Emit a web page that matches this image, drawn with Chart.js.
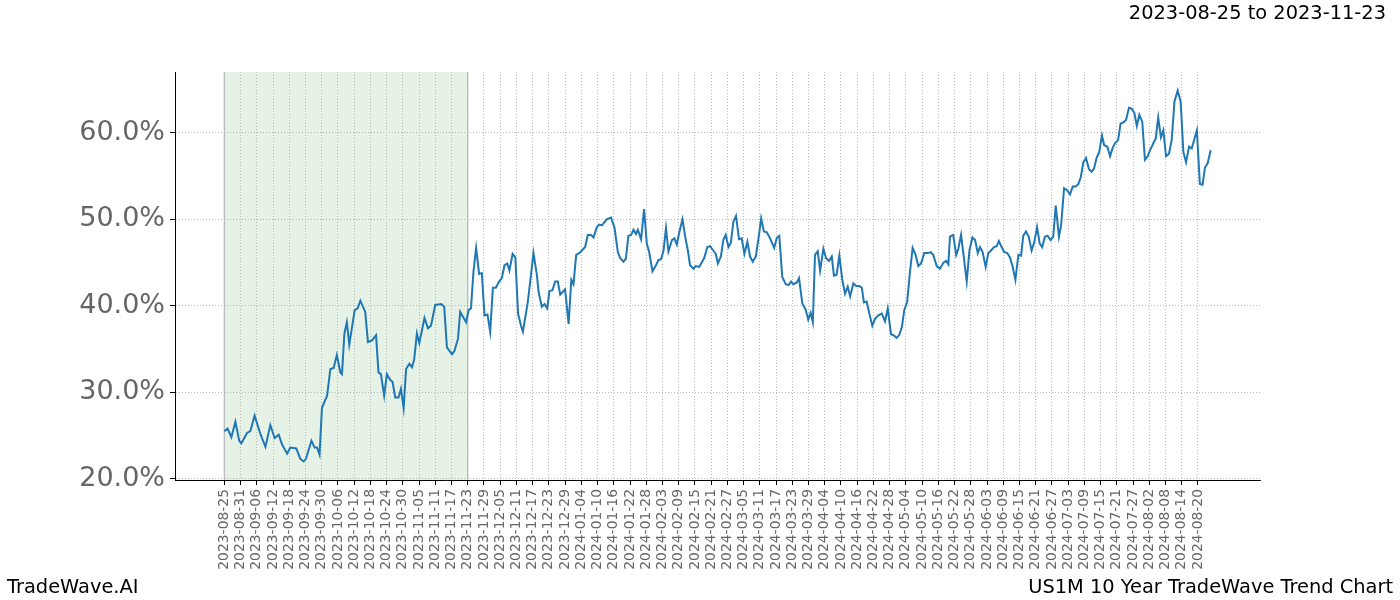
<!DOCTYPE html>
<html>
<head>
<meta charset="utf-8">
<script src="https://cdn.jsdelivr.net/npm/chart.js@4.4.1/dist/chart.umd.min.js"></script>
<style>
  body { margin: 0; background: #fff; }
  #wrap { position: relative; width: 1400px; height: 600px; }
  .txt { position: absolute; font-family: "DejaVu Sans", sans-serif; font-size: 19.4px; line-height: 1; color: #000; white-space: nowrap; }
</style>
</head>
<body>
<div id="wrap">
  <canvas id="chart" width="1400" height="600"></canvas>
  <div class="txt" style="right:14px; top:3px;">2023-08-25 to 2023-11-23</div>
  <div class="txt" style="left:7px; top:577px;">TradeWave.AI</div>
  <div class="txt" style="right:7px; top:577px;">US1M 10 Year TradeWave Trend Chart</div>
</div>
<script>
// x tick labels, one every 6 index steps
const tickLabels = [
  "2023-08-25", "2023-08-31", "2023-09-06", "2023-09-12", "2023-09-18", "2023-09-24",
  "2023-09-30", "2023-10-06", "2023-10-12", "2023-10-18", "2023-10-24", "2023-10-30",
  "2023-11-05", "2023-11-11", "2023-11-17", "2023-11-23", "2023-11-29", "2023-12-05",
  "2023-12-11", "2023-12-17", "2023-12-23", "2023-12-29", "2024-01-04", "2024-01-10",
  "2024-01-16", "2024-01-22", "2024-01-28", "2024-02-03", "2024-02-09", "2024-02-15",
  "2024-02-21", "2024-02-27", "2024-03-05", "2024-03-11", "2024-03-17", "2024-03-23",
  "2024-03-29", "2024-04-04", "2024-04-10", "2024-04-16", "2024-04-22", "2024-04-28",
  "2024-05-04", "2024-05-10", "2024-05-16", "2024-05-22", "2024-05-28", "2024-06-03",
  "2024-06-09", "2024-06-15", "2024-06-21", "2024-06-27", "2024-07-03", "2024-07-09",
  "2024-07-15", "2024-07-21", "2024-07-27", "2024-08-02", "2024-08-08", "2024-08-14",
  "2024-08-20"
];
const yTicks = [20, 30, 40, 50, 60];

// highlighted window (index range), 2023-08-25 .. 2023-11-23
const bandStart = 0;
const bandEnd = 90;

// day index since 2023-08-25 and trend value (%)
const dayIndex = [
  0, 1.2, 2.6, 4.1, 5.5, 6.3, 8.4, 9.6, 11.2, 13.3, 15.2, 17.0, 18.6, 20.1, 21.3, 23.2, 24.4, 26.6, 28.1, 29.3,
  30.2, 32.2, 33.4, 34.3, 35.2, 36.1, 38.0, 39.2, 40.4, 41.6, 42.9, 43.5, 44.4, 45.3, 46.2, 48.2, 49.3, 50.3, 52.1, 53.1,
  54.6, 56.1, 57.0, 57.9, 59.1, 60.1, 61.4, 62.2, 63.2, 64.4, 65.3, 66.3, 67.2, 68.4, 69.4, 70.2, 71.2, 72.1, 73.1, 74.0,
  75.3, 76.4, 78.0, 80.2, 81.3, 82.3, 84.2, 85.1, 86.4, 87.2, 89.4, 90.3, 91.2, 92.1, 93.1, 94.2, 95.2, 96.2, 97.3, 98.3,
  99.3, 100.4, 101.6, 102.6, 103.6, 104.6, 105.4, 106.6, 107.6, 108.6, 109.7, 110.4, 111.5, 112.2, 113.5, 114.3, 115.6, 116.2, 117.4, 118.4,
  119.4, 120.2, 121.3, 122.3, 123.3, 124.2, 126.0, 127.3, 128.3, 129.1, 130.1, 131.6, 132.8, 133.4, 134.4, 135.6, 136.5, 137.7, 138.6, 139.6,
  141.4, 143.0, 144.3, 145.5, 146.4, 147.6, 148.5, 149.4, 150.4, 151.3, 152.2, 152.9, 154.1, 155.2, 156.2, 157.1, 158.3, 159.6, 160.5, 161.5,
  162.4, 163.3, 164.2, 165.5, 166.4, 167.3, 168.3, 169.4, 170.4, 171.4, 172.2, 173.5, 174.3, 175.6, 176.3, 177.4, 178.6, 179.6, 180.8, 181.7,
  182.5, 183.6, 184.5, 185.4, 186.4, 187.3, 188.2, 189.2, 190.3, 191.3, 192.3, 193.4, 194.4, 195.4, 196.5, 197.5, 198.5, 199.5, 200.6, 201.8,
  203.3, 204.3, 205.2, 206.3, 207.6, 208.6, 209.6, 210.4, 211.7, 212.5, 213.7, 215.0, 215.9, 216.8, 217.6, 218.4, 219.4, 220.3, 221.5, 222.5,
  223.6, 224.6, 225.4, 226.4, 227.4, 228.5, 229.5, 230.5, 231.4, 232.6, 233.6, 234.7, 235.7, 236.5, 237.5, 238.5, 239.6, 240.6, 241.8, 243.1,
  244.3, 245.3, 246.5, 247.4, 248.6, 249.5, 250.5, 251.4, 252.5, 253.5, 254.5, 255.6, 256.6, 257.6, 258.8, 260.1, 261.2, 262.1, 263.4, 264.6,
  265.9, 266.9, 267.7, 268.3, 269.5, 270.6, 271.4, 272.4, 273.2, 274.5, 275.5, 276.6, 277.6, 278.6, 279.4, 280.4, 281.5, 282.5, 283.5, 284.6,
  285.6, 286.4, 287.4, 288.4, 289.5, 290.5, 291.5, 292.5, 293.6, 294.6, 295.4, 296.4, 297.4, 298.5, 299.5, 300.5, 301.5, 302.4, 303.4, 304.4,
  305.5, 306.5, 307.4, 308.6, 309.4, 310.5, 311.5, 312.7, 313.7, 314.8, 315.8, 316.7, 317.6, 318.6, 319.7, 320.7, 321.6, 322.5, 323.5, 324.5,
  325.3, 326.5, 327.5, 328.5, 329.3, 330.5, 331.4, 332.4, 333.4, 334.5, 335.5, 336.5, 337.4, 338.3, 339.4, 340.4, 341.4, 342.4, 343.2, 344.4,
  345.3, 346.3, 347.2, 348.2, 349.3, 350.3, 351.3, 352.5, 353.6, 354.6, 355.6, 356.7, 357.7, 358.6, 359.6, 360.7, 361.7, 362.6, 363.6, 364.7
];
const trendPct = [
  25.5, 25.8, 24.8, 26.6, 24.4, 24.1, 25.3, 25.5, 27.3, 25.2, 23.7, 26.2, 24.7, 25.1, 24.0, 22.9, 23.6, 23.5, 22.3, 22.0,
  22.3, 24.4, 23.6, 23.6, 22.8, 28.2, 29.6, 32.7, 32.8, 34.3, 32.3, 32.1, 36.8, 38.1, 35.5, 39.5, 39.7, 40.6, 39.3, 35.8,
  36.0, 36.6, 32.3, 32.1, 29.6, 32.1, 31.4, 31.2, 29.4, 29.4, 30.4, 28.2, 32.7, 33.3, 32.9, 33.8, 36.8, 35.7, 37.2, 38.6,
  37.4, 37.7, 40.1, 40.2, 39.9, 35.2, 34.4, 34.8, 36.2, 39.3, 38.1, 39.5, 39.7, 43.9, 46.7, 43.7, 43.8, 38.9, 39.0, 37.0,
  42.1, 42.1, 42.8, 43.2, 44.7, 44.9, 44.1, 46.0, 45.6, 39.1, 37.7, 37.0, 39.1, 40.4, 43.9, 46.1, 43.5, 41.6, 39.9, 40.2,
  39.7, 41.7, 41.8, 42.8, 42.8, 41.3, 41.9, 37.9, 43.0, 42.5, 45.9, 46.2, 46.6, 46.8, 48.2, 48.2, 47.9, 49.1, 49.4, 49.3,
  50.0, 50.2, 49.0, 46.2, 45.5, 45.1, 45.5, 48.1, 48.2, 48.8, 48.3, 48.8, 47.7, 51.2, 47.2, 46.2, 44.0, 44.7, 45.3, 45.4,
  46.4, 49.0, 46.3, 47.6, 47.8, 47.1, 48.6, 50.0, 48.0, 46.4, 44.7, 44.3, 44.6, 44.5, 44.9, 45.5, 46.8, 46.9, 46.4, 46.0,
  44.9, 45.7, 47.6, 48.2, 46.8, 47.3, 49.7, 50.4, 47.7, 47.8, 46.0, 47.4, 45.7, 45.1, 45.7, 47.8, 50.1, 48.6, 48.5, 47.8,
  46.7, 47.9, 48.1, 43.3, 42.5, 42.4, 42.8, 42.5, 42.7, 43.2, 40.3, 39.5, 38.4, 39.2, 38.1, 45.9, 46.3, 44.1, 46.6, 45.5,
  45.2, 45.7, 43.5, 43.6, 45.8, 43.0, 41.4, 42.2, 41.1, 42.6, 42.3, 42.3, 42.1, 40.4, 40.5, 39.1, 37.7, 38.5, 38.9, 39.1,
  38.2, 39.7, 36.7, 36.6, 36.3, 36.6, 37.5, 39.5, 40.5, 43.9, 46.7, 45.9, 44.6, 44.9, 46.1, 46.1, 46.2, 45.9, 44.6, 44.3,
  45.0, 45.2, 44.8, 48.0, 48.2, 45.9, 46.6, 48.2, 46.2, 42.8, 46.4, 47.9, 47.6, 46.1, 46.8, 46.2, 44.5, 46.1, 46.4, 46.8,
  46.9, 47.5, 46.8, 46.2, 46.1, 45.6, 44.5, 43.0, 45.9, 45.8, 48.1, 48.6, 48.0, 46.4, 47.4, 49.1, 47.2, 46.8, 48.0, 48.1,
  47.6, 48.0, 51.6, 48.0, 49.3, 53.6, 53.4, 52.9, 53.8, 53.8, 54.1, 54.9, 56.6, 57.1, 55.8, 55.5, 55.9, 57.1, 57.8, 59.7,
  58.6, 58.4, 57.3, 58.3, 58.8, 59.2, 61.1, 61.2, 61.5, 62.9, 62.8, 62.3, 60.8, 62.1, 61.3, 56.9, 57.3, 58.1, 58.6, 59.4,
  61.8, 59.5, 60.3, 57.3, 57.6, 59.2, 63.6, 64.9, 63.6, 57.8, 56.6, 58.4, 58.2, 59.2, 60.3, 54.1, 54.0, 56.0, 56.5, 58.0
];

// light green span with grey edges, drawn under grid and line
const bandPlugin = {
    id: 'band',
    beforeDraw(chart) {
        const {ctx, chartArea, scales} = chart;
        const x0 = scales.x.getPixelForValue(bandStart);
        const x1 = scales.x.getPixelForValue(bandEnd);
        ctx.save();
        ctx.fillStyle = 'rgba(0, 128, 0, 0.1)';
        ctx.fillRect(x0, chartArea.top, x1 - x0, chartArea.bottom - chartArea.top);
        ctx.strokeStyle = 'rgba(140, 140, 140, 0.45)';
        ctx.lineWidth = 1.5;
        ctx.beginPath();
        ctx.moveTo(x0, chartArea.top); ctx.lineTo(x0, chartArea.bottom);
        ctx.moveTo(x1, chartArea.top); ctx.lineTo(x1, chartArea.bottom);
        ctx.stroke();
        ctx.restore();
    }
};

const gridStyle = {color: '#a8a8a8', lineWidth: 0.8, tickLength: 5, tickColor: '#000', tickWidth: 1};
const borderStyle = {display: true, color: '#000', width: 1, dash: [1, 2]};

new Chart(document.getElementById("chart"), {
    type: 'line',
    data: {
        datasets: [{
            data: dayIndex.map((d, i) => ({x: d, y: trendPct[i]})),
            borderColor: '#1f77b4',
            borderWidth: 2,
            pointRadius: 0,
            tension: 0,
            fill: false
        }]
    },
    options: {
        responsive: false,
        animation: false,
        layout: {padding: {left: 0, top: 72, right: 140, bottom: 0}},
        plugins: {legend: {display: false}, tooltip: {enabled: false}},
        scales: {
            x: {
                type: 'linear',
                min: -18.24,
                max: 382.94,
                afterBuildTicks: s => { s.ticks = tickLabels.map((_, i) => ({value: i * 6})); },
                afterFit: s => { s.height = 120; },
                ticks: {
                    autoSkip: false,
                    minRotation: 90,
                    maxRotation: 90,
                    padding: 4,
                    color: '#666',
                    font: {family: 'DejaVu Sans', size: 13.9},
                    callback: (v, i) => tickLabels[i]
                },
                grid: gridStyle,
                border: borderStyle
            },
            y: {
                min: 19.855,
                max: 67.045,
                afterBuildTicks: s => { s.ticks = yTicks.map(v => ({value: v})); },
                afterFit: s => { s.width = 175; },
                ticks: {
                    padding: 5,
                    color: '#666',
                    font: {family: 'DejaVu Sans', size: 27},
                    callback: v => v.toFixed(1) + '%'
                },
                grid: gridStyle,
                border: borderStyle
            }
        }
    },
    plugins: [bandPlugin]
});
</script>
</body>
</html>
